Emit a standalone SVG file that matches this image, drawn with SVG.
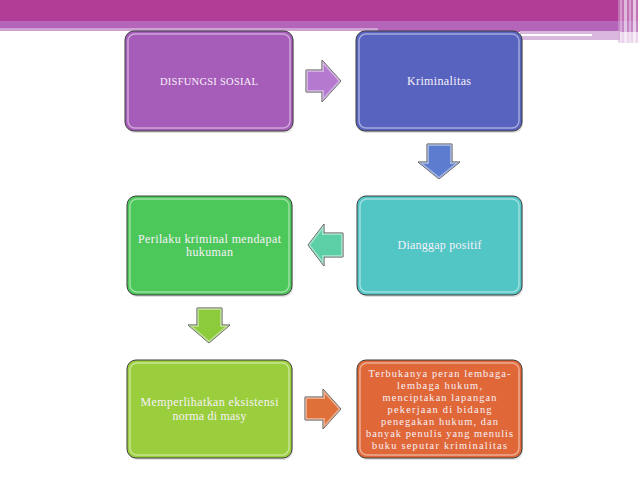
<svg xmlns="http://www.w3.org/2000/svg" width="638" height="479" viewBox="0 0 638 479">
<defs>
<style>
.box{stroke:#3c3c3c;stroke-width:1}
.gloss{fill:none;stroke:#ffffff;stroke-opacity:0.45;stroke-width:1.5}
.shadow{fill:#000;fill-opacity:0.12}
.arrow{stroke:#4a4a4a;stroke-width:1}
.bevel{fill:none;stroke:#ffffff;stroke-opacity:0.4;stroke-width:4}
.t{font-family:"Liberation Serif","DejaVu Serif",serif;font-size:12px;fill:#f6f1f8;text-anchor:middle}
.caps{font-size:10.5px}
.sm{font-size:10.4px}
</style>
<path id="a1" d="M306,70 H322 V60 L341,81 L322,102 V92 H306 Z"/>
<path id="a2" d="M427,144 H452 V162 H460 L439,179 L418,162 H427 Z"/>
<path id="a3" d="M343,233 H324 V224 L308,245 L324,266 V257 H343 Z"/>
<path id="a4" d="M197,308 H222 V325 H230 L209,343 L188,325 H197 Z"/>
<path id="a5" d="M305,397 H323 V389 L341,409 L323,429 V420 H305 Z"/>
<clipPath id="c1"><use href="#a1"/></clipPath>
<clipPath id="c2"><use href="#a2"/></clipPath>
<clipPath id="c3"><use href="#a3"/></clipPath>
<clipPath id="c4"><use href="#a4"/></clipPath>
<clipPath id="c5"><use href="#a5"/></clipPath>
</defs>
<rect width="638" height="479" fill="#ffffff"/>
<g id="banner">
<rect x="0" y="0" width="638" height="21" fill="#b13d97"/>
<rect x="0" y="21" width="638" height="8" fill="#b465b9"/>
<rect x="0" y="28" width="378" height="3" fill="#cfa2d4"/>
<rect x="378" y="28" width="260" height="4" fill="#b465b9"/>
<rect x="520" y="31" width="100" height="9" fill="#d9b8de"/>
<rect x="520" y="34" width="72" height="2" fill="#ffffff"/>
<rect x="618" y="0" width="20" height="43" fill="#d6a7d8" fill-opacity="0.5"/>
<rect x="620" y="0" width="2" height="43" fill="#ffffff" fill-opacity="0.3"/>
<rect x="624" y="0" width="3" height="43" fill="#ffffff" fill-opacity="0.5"/>
<rect x="629" y="0" width="2" height="43" fill="#ffffff" fill-opacity="0.35"/>
<rect x="633" y="0" width="3" height="43" fill="#ffffff" fill-opacity="0.6"/>
</g>
<g id="connectors">
<g fill="#b57ad0"><use href="#a1" class="arrow"/><use href="#a1" class="bevel" clip-path="url(#c1)"/></g>
<g fill="#5b7ccf"><use href="#a2" class="arrow"/><use href="#a2" class="bevel" clip-path="url(#c2)"/></g>
<g fill="#5ccfa6"><use href="#a3" class="arrow"/><use href="#a3" class="bevel" clip-path="url(#c3)"/></g>
<g fill="#8ccb3c"><use href="#a4" class="arrow"/><use href="#a4" class="bevel" clip-path="url(#c4)"/></g>
<g fill="#e0703a"><use href="#a5" class="arrow"/><use href="#a5" class="bevel" clip-path="url(#c5)"/></g>
</g>
<g id="n1">
<rect class="shadow" x="126" y="33" width="168" height="100" rx="9"/>
<rect class="box" x="125" y="31" width="168" height="100" rx="9" fill="#a65cb9"/>
<rect class="gloss" x="128" y="34" width="162" height="94" rx="7"/>
<text class="t caps" x="209" y="85" textLength="98" lengthAdjust="spacing">DISFUNGSI SOSIAL</text>
</g>
<g id="n2">
<rect class="shadow" x="357" y="33" width="166" height="100" rx="9"/>
<rect class="box" x="356" y="31" width="166" height="100" rx="9" fill="#5863c0"/>
<rect class="gloss" x="359" y="34" width="160" height="94" rx="7"/>
<text class="t" x="439" y="85" textLength="64" lengthAdjust="spacing">Kriminalitas</text>
</g>
<g id="n3">
<rect class="shadow" x="128" y="198" width="165" height="99" rx="9"/>
<rect class="box" x="127" y="196" width="165" height="99" rx="9" fill="#4cc85a"/>
<rect class="gloss" x="130" y="199" width="159" height="93" rx="7"/>
<text class="t" x="209.5" y="242.5" textLength="143" lengthAdjust="spacing">Perilaku kriminal mendapat</text>
<text class="t" x="209.5" y="255.5" textLength="47" lengthAdjust="spacing">hukuman</text>
</g>
<g id="n4">
<rect class="shadow" x="358" y="198" width="165" height="99" rx="9"/>
<rect class="box" x="357" y="196" width="165" height="99" rx="9" fill="#52c5c5"/>
<rect class="gloss" x="360" y="199" width="159" height="93" rx="7"/>
<text class="t" x="439.5" y="249" textLength="84" lengthAdjust="spacing">Dianggap positif</text>
</g>
<g id="n5">
<rect class="shadow" x="128" y="362" width="165" height="98" rx="9"/>
<rect class="box" x="127" y="360" width="165" height="98" rx="9" fill="#9ace3c"/>
<rect class="gloss" x="130" y="363" width="159" height="92" rx="7"/>
<text class="t" x="209.5" y="406" textLength="138" lengthAdjust="spacing">Memperlihatkan eksistensi</text>
<text class="t" x="209.5" y="419.5" textLength="74" lengthAdjust="spacing">norma di masy</text>
</g>
<g id="n6">
<rect class="shadow" x="358" y="362" width="165" height="98" rx="9"/>
<rect class="box" x="357" y="360" width="165" height="98" rx="9" fill="#e06838"/>
<rect class="gloss" x="360" y="363" width="159" height="92" rx="7"/>
<text class="t sm" x="439.5" y="376.5" textLength="142" lengthAdjust="spacing">Terbukanya peran lembaga-</text>
<text class="t sm" x="439.5" y="388.5" textLength="85" lengthAdjust="spacing">lembaga hukum,</text>
<text class="t sm" x="439.5" y="400.5" textLength="114" lengthAdjust="spacing">menciptakan lapangan</text>
<text class="t sm" x="439.5" y="412.5" textLength="104" lengthAdjust="spacing">pekerjaan di bidang</text>
<text class="t sm" x="439.5" y="424.5" textLength="117" lengthAdjust="spacing">penegakan hukum, dan</text>
<text class="t sm" x="439.5" y="436.5" textLength="147" lengthAdjust="spacing">banyak penulis yang menulis</text>
<text class="t sm" x="439.5" y="448.5" textLength="135" lengthAdjust="spacing">buku seputar kriminalitas</text>
</g>
</svg>
